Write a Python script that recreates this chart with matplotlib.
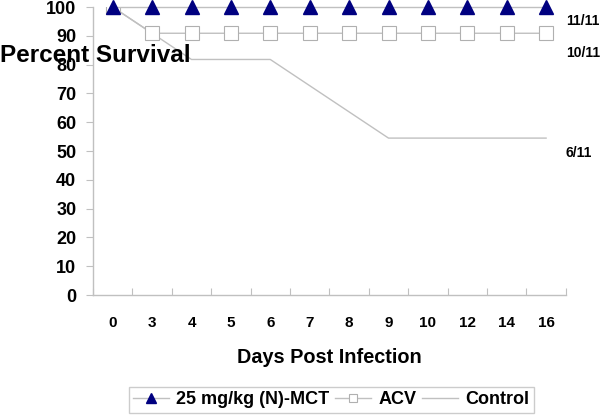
import matplotlib
matplotlib.use("Agg")
import matplotlib.pyplot as plt
from matplotlib.lines import Line2D

days = ["0", "3", "4", "5", "6", "7", "8", "9", "10", "12", "14", "16"]
mct = [100, 100, 100, 100, 100, 100, 100, 100, 100, 100, 100, 100]
acv = [100, 90.9, 90.9, 90.9, 90.9, 90.9, 90.9, 90.9, 90.9, 90.9, 90.9, 90.9]
control = [100, 90.9, 81.8, 81.8, 81.8, 72.7, 63.6, 54.5, 54.5, 54.5, 54.5, 54.5]
end_labels = ["11/11", "10/11", "6/11"]
end_values = [100, 90.9, 54.5]
end_offsets = [-10, -14, -11]

plt.rcParams['font.family'] = ['Liberation Sans', 'DejaVu Sans']
plt.rcParams['font.weight'] = 'bold'

fig = plt.figure(figsize=(6, 4.15), dpi=100)
ax = fig.add_axes([0.155, 0.289, 0.788, 0.694])

x = [i + 0.5 for i in range(len(days))]
ax.plot(x, control, color='#c0c0c0', lw=1, zorder=1)
ax.plot(x, acv, color='#c0c0c0', lw=1, marker='s', markersize=9.5,
        markerfacecolor='white', markeredgecolor='#b0b0b0', markeredgewidth=0.8, zorder=2)
ax.plot(x, mct, color='#c0c0c0', lw=1, marker='^', markersize=10.5,
        markerfacecolor='#000080', markeredgecolor='#000080', zorder=3, clip_on=False)

ax.set_xlim(0, len(days))
ax.set_ylim(0, 100)
ax.set_yticks(range(0, 101, 10))
ax.set_yticklabels([str(v) for v in range(0, 101, 10)], fontsize=13, fontweight='bold')
ax.set_xticks(range(0, len(days) + 1))
ax.set_xticklabels([])
ax.set_xticks(x, minor=True)
ax.set_xticklabels(days, minor=True, fontsize=11, fontweight='bold')
ax.tick_params(axis='x', which='minor', length=0, pad=15)
ax.tick_params(axis='x', which='major', direction='in', length=5, color='#c0c0c0')
ax.tick_params(axis='y', direction='out', length=5, color='#c0c0c0', pad=7)

for s in ['top', 'right']:
    ax.spines[s].set_visible(False)
for s in ['left', 'bottom']:
    ax.spines[s].set_color('#c0c0c0')
    ax.spines[s].set_linewidth(1)

ax.set_xlabel("Days Post Infection", fontsize=14.3, fontweight='bold', labelpad=13)

fig.text(0.0, 0.867, "Percent Survival", fontsize=17.5, fontweight='bold', va='center', ha='left')

for lab, v, off in zip(end_labels, end_values, end_offsets):
    ax.annotate(lab, xy=(len(days), v), xytext=(0, off), textcoords='offset points',
                fontsize=10, fontweight='bold', ha='left', va='center', annotation_clip=False)

handles = [
    Line2D([], [], color='#c0c0c0', lw=1, marker='^', markersize=7,
           markerfacecolor='#000080', markeredgecolor='#000080'),
    Line2D([], [], color='#c0c0c0', lw=1, marker='s', markersize=6,
           markerfacecolor='white', markeredgecolor='#b0b0b0', markeredgewidth=0.8),
    Line2D([], [], color='#c0c0c0', lw=1),
]
leg = fig.legend(handles, ["25 mg/kg (N)-MCT", "ACV", "Control"], loc='center',
                 bbox_to_anchor=(0.552, 0.037), ncol=3, frameon=True, fancybox=False,
                 prop={'weight': 'bold', 'size': 13}, handlelength=2.0, handletextpad=0.4,
                 columnspacing=0.3, borderpad=0.25)
leg.get_frame().set_edgecolor('#c0c0c0')
leg.get_frame().set_linewidth(1)

fig.savefig("out.png", dpi=100)
